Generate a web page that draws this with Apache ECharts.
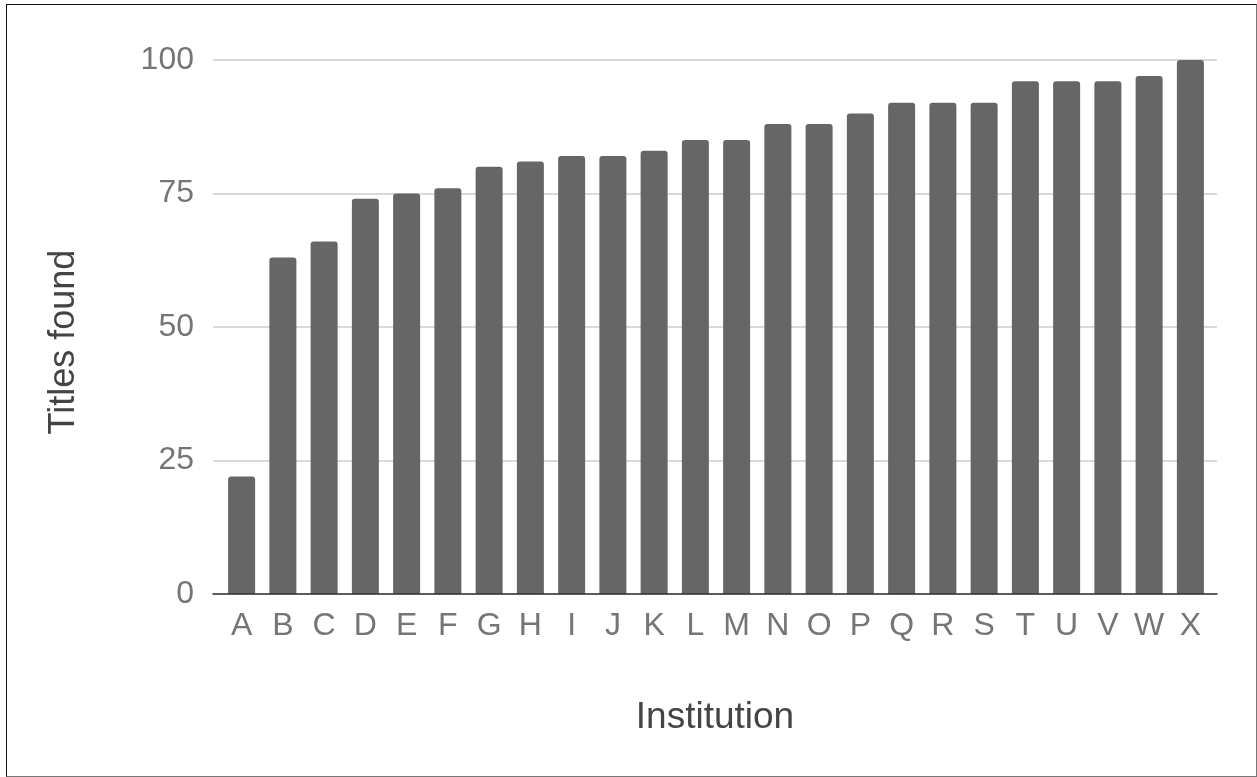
<!DOCTYPE html>
<html>
<head>
<meta charset="utf-8">
<script src="https://cdn.jsdelivr.net/npm/echarts@6/dist/echarts.min.js"></script>
<style>
html,body{margin:0;padding:0;background:#fff;}
#chart{position:absolute;left:0;top:0;width:1257px;height:777px;}
#frame{position:absolute;left:6px;top:4px;width:1249px;height:771px;border:1px solid #111;border-right-color:#777;border-bottom-color:#777;pointer-events:none;}
</style>
</head>
<body>
<div id="chart"></div>
<div id="frame"></div>
<script>
const categories = ['A','B','C','D','E','F','G','H','I','J','K','L','M','N','O','P','Q','R','S','T','U','V','W','X'];
const titlesFound = [22,63,66,74,75,76,80,81,82,82,83,85,85,88,88,90,92,92,92,96,96,96,97,100];
const yTicks = {min:0, max:100, interval:25};

const font = "'Liberation Sans', Arial, sans-serif";
const chart = echarts.init(document.getElementById('chart'), null, {renderer:'canvas'});
chart.setOption({
  backgroundColor:'#fff',
  animation:false,
  grid:[
    {left:213, right:40, top:60, bottom:183},
    {left:221, right:46, top:60, bottom:183}
  ],
  xAxis:[
    {gridIndex:0, type:'value', min:0, max:1, z:5,
     axisLine:{show:true, onZero:false, lineStyle:{color:'#333', width:1.5}},
     axisTick:{show:false}, axisLabel:{show:false}, splitLine:{show:false},
     name:'Institution', nameLocation:'middle', nameGap:105,
     nameTextStyle:{fontFamily:font, fontSize:37, color:'#444'}},
    {gridIndex:1, type:'category', data:categories,
     axisLine:{show:false}, axisTick:{show:false},
     axisLabel:{fontFamily:font, fontSize:32, color:'#757575', margin:16, interval:0}}
  ],
  yAxis:[
    {gridIndex:0, type:'value', min:yTicks.min, max:yTicks.max, interval:yTicks.interval,
     axisLine:{show:false}, axisTick:{show:false},
     axisLabel:{fontFamily:font, fontSize:32, color:'#757575', margin:19},
     splitLine:{lineStyle:{color:'#ccc', width:1.5}},
     name:'Titles found', nameLocation:'middle', nameGap:131,
     nameTextStyle:{fontFamily:font, fontSize:36, color:'#444', padding:[0,30,0,0]}},
    {gridIndex:1, type:'value', min:yTicks.min, max:yTicks.max, show:false}
  ],
  series:[{
    type:'bar', xAxisIndex:1, yAxisIndex:1,
    data:titlesFound, barWidth:27,
    itemStyle:{color:'#666', borderRadius:[3,3,0,0]}
  }]
});
</script>
</body>
</html>
